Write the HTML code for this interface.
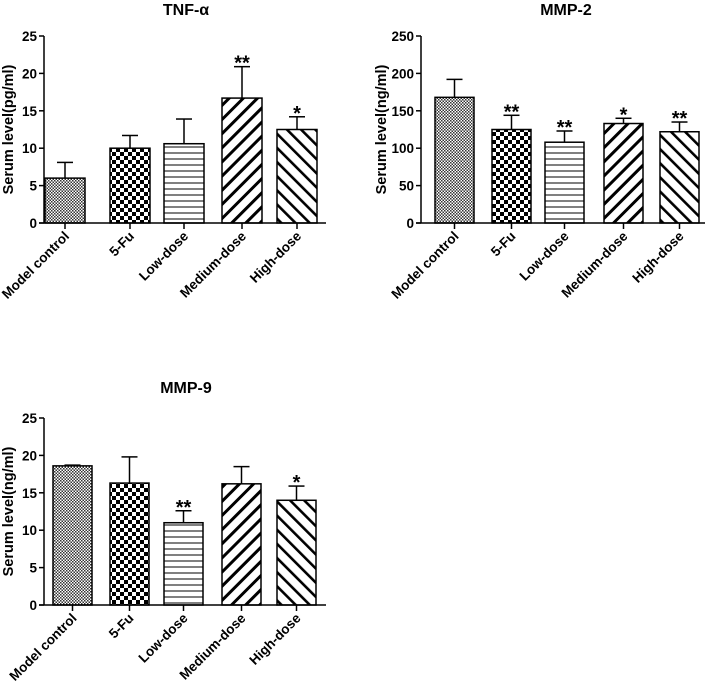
<!DOCTYPE html>
<html><head><meta charset="utf-8"><style>
body{margin:0;background:#fff}
svg{display:block;font-family:"Liberation Sans",Arial,sans-serif}
</style></head><body>
<svg id="s" width="709" height="690" viewBox="0 0 709 690">
<defs>
<pattern id="p0" width="3" height="3" patternUnits="userSpaceOnUse"><rect width="3" height="3" fill="#fff"/><rect width="1.5" height="1.5" fill="#333"/><rect x="1.5" y="1.5" width="1.5" height="1.5" fill="#333"/></pattern>
<pattern id="p1" width="8" height="8" patternUnits="userSpaceOnUse"><rect width="8" height="8" fill="#fff"/><rect width="4" height="4" fill="#000"/><rect x="4" y="4" width="4" height="4" fill="#000"/></pattern>
<pattern id="p2" width="6" height="6" patternUnits="userSpaceOnUse"><rect width="6" height="6" fill="#fff"/><line x1="0" y1="3" x2="6" y2="3" stroke="#000" stroke-width="1"/></pattern>
<pattern id="p3" width="10" height="10" patternUnits="userSpaceOnUse" patternTransform="rotate(45)"><rect width="10" height="10" fill="#fff"/><rect width="3" height="10" fill="#000"/></pattern>
<pattern id="p4" width="10" height="10" patternUnits="userSpaceOnUse" patternTransform="rotate(-45)"><rect width="10" height="10" fill="#fff"/><rect width="2.6" height="10" fill="#000"/></pattern>
</defs>
</svg>
<script>
const categories=["Model control","5-Fu","Low-dose","Medium-dose","High-dose"];
const tnfValues=[6.0,10.0,10.6,16.7,12.5];
const tnfErrors=[2.1,1.7,3.3,4.2,1.7];
const tnfSig=["","","","**","*"];
const tnfTicks=[0,5,10,15,20,25];
const mmp2Values=[168,125,108,133,122];
const mmp2Errors=[24,19,15,7,13];
const mmp2Sig=["","**","**","*","**"];
const mmp2Ticks=[0,50,100,150,200,250];
const mmp9Values=[18.6,16.3,11.0,16.2,14.0];
const mmp9Errors=[0.1,3.5,1.6,2.3,1.9];
const mmp9Sig=["","","**","","*"];
const mmp9Ticks=[0,5,10,15,20,25];

const svg=document.getElementById('s');
const NS='http://www.w3.org/2000/svg';
function mk(tag,attrs,parent,txt){const e=document.createElementNS(NS,tag);for(const k in attrs)e.setAttribute(k,attrs[k]);if(txt!==undefined)e.textContent=txt;parent.appendChild(e);return e;}

function chart(name,title,ylab,values,errors,sig,ticks,ox,y0,y1,barLefts,barW,axisEnd,titleX,titleY,ytx){
  const g=mk('g',{},svg);
  
  
  const maxV=ticks[ticks.length-1];
  const Y=v=>y0-(v/maxV)*(y0-y1);
  const t=mk('text',{x:titleX,y:titleY,'text-anchor':'middle','font-size':16,'font-weight':'bold'},g,title);
  
  
  const yl=mk('text',{transform:`translate(${ytx},${(y0+y1)/2}) rotate(-90)`,'text-anchor':'middle','font-size':14.5,'font-weight':'bold'},g,ylab);
  
  
  values.forEach((v,i)=>{
    const x=barLefts[i], cx=x+barW/2;
    const top=Y(v), et=Y(v+errors[i]);
    const el=mk('line',{x1:cx,y1:top,x2:cx,y2:et,stroke:'#000','stroke-width':1.5},g);
    
    
    const ec=mk('line',{x1:cx-8,y1:et,x2:cx+8,y2:et,stroke:'#000','stroke-width':1.5},g);
    
    
    const r=mk('rect',{x:x,y:top,width:barW,height:y0-top,fill:`url(#p${i})`,stroke:'#000','stroke-width':1.5},g);
    
    
    if(sig[i]){
      const s=mk('text',{x:cx,y:et+3,'text-anchor':'middle','font-size':20,'font-weight':'bold'},g,sig[i]);
      
      
    }
    const tk=mk('line',{x1:cx,y1:y0,x2:cx,y2:y0+6,stroke:'#000','stroke-width':1.5},g);
    
    
    const lb=mk('text',{transform:`translate(${cx+5},${y0+14}) rotate(-45)`,'text-anchor':'end','font-size':13.5,'font-weight':'bold'},g,categories[i]);
    
    
  });
  const ax=mk('line',{x1:ox,y1:y1,x2:ox,y2:y0,stroke:'#000','stroke-width':1.5},g);
  
  
  const xa=mk('line',{x1:ox-5,y1:y0,x2:axisEnd,y2:y0,stroke:'#000','stroke-width':1.5},g);
  
  
  ticks.forEach(tv=>{
    const y=Y(tv);
    const tl=mk('line',{x1:ox-5,y1:y,x2:ox,y2:y,stroke:'#000','stroke-width':1.5},g);
    
    
    const tt=mk('text',{x:ox-7,y:y+5,'text-anchor':'end','font-size':13.5,'font-weight':'bold'},g,String(tv));
    
    
  });
}
chart('tnf-chart','TNF-α','Serum level(pg/ml)',tnfValues,tnfErrors,tnfSig,tnfTicks,44,223,36,[45,110,164,222,277],40,326,186,15,13);
chart('mmp2-chart','MMP-2','Serum level(ng/ml)',mmp2Values,mmp2Errors,mmp2Sig,mmp2Ticks,421,223,36,[435,492,545,604,660],39,705,566,15,386);
chart('mmp9-chart','MMP-9','Serum level(ng/ml)',mmp9Values,mmp9Errors,mmp9Sig,mmp9Ticks,44,605,418,[53,110,164,222,277],39,326,186,393,13);
</script>
</body></html>
